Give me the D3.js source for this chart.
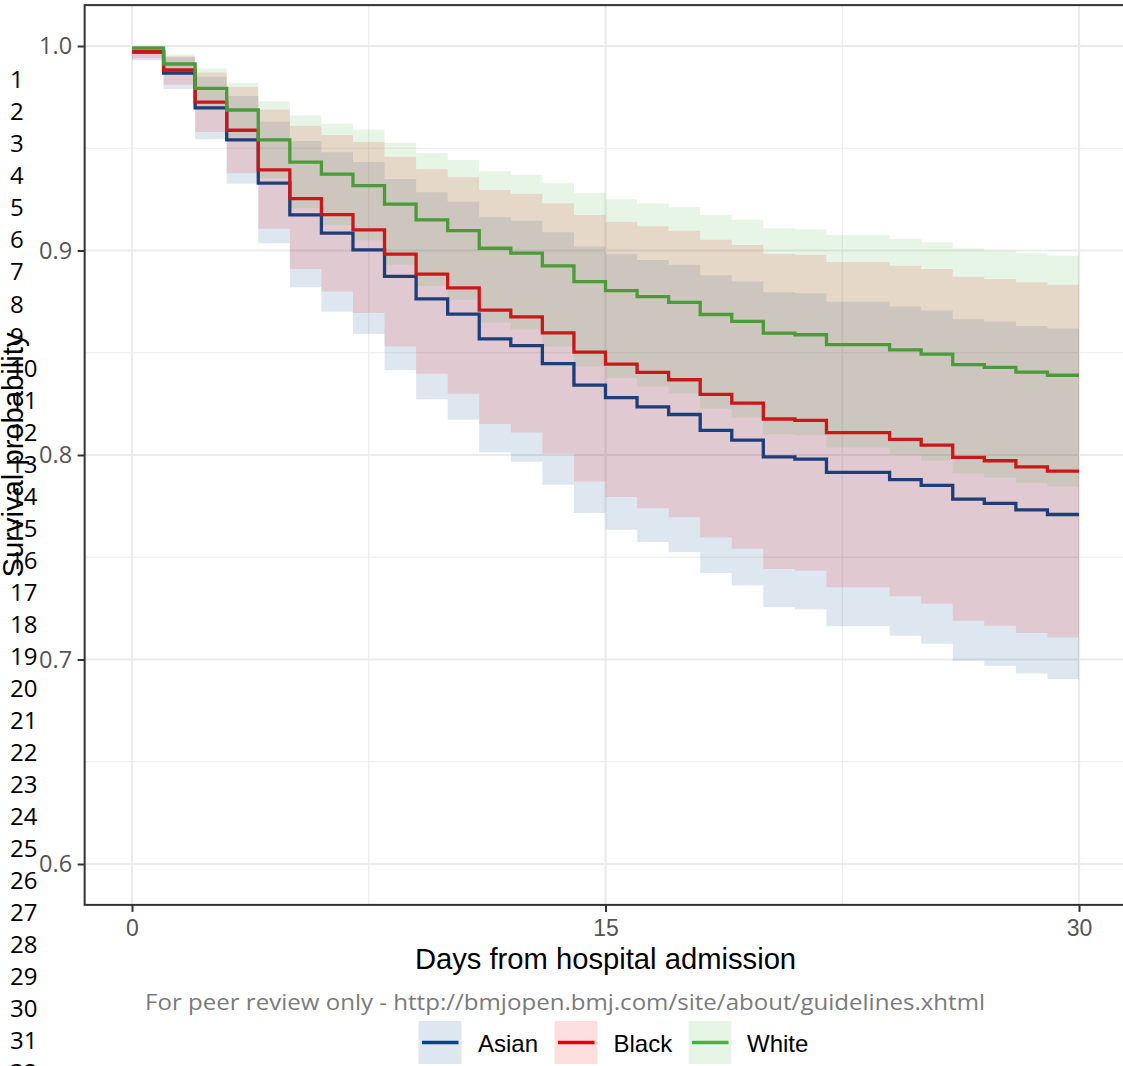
<!DOCTYPE html>
<html><head><meta charset="utf-8">
<script src="https://cdn.jsdelivr.net/npm/d3@7"></script>
<style>body{margin:0;background:#fff}svg{display:block}</style>
</head><body><svg id="c" width="1123" height="1066"></svg>
<script>
// ---------------- data ----------------
const days = [0,1,2,3,4,5,6,7,8,9,10,11,12,13,14,15,16,17,18,19,20,21,22,23,24,25,26,27,28,29,30];
const groups = ["Asian","Black","White"];

const asianSurv  = [0.997,0.9868,0.9697,0.9541,0.9329,0.9174,0.9085,0.9003,0.8873,0.8763,0.8689,0.8568,0.8535,0.8447,0.8342,0.8281,0.8235,0.8198,0.8120,0.8073,0.7991,0.7980,0.7915,0.7915,0.7880,0.7851,0.7784,0.7763,0.7732,0.7709,0.7709];
const asianUpper = [1.0,0.9945,0.985,0.9756,0.963,0.9536,0.948,0.9433,0.935,0.9285,0.9238,0.9163,0.9145,0.9089,0.9019,0.8982,0.8954,0.8930,0.8879,0.8848,0.8796,0.8791,0.8749,0.8749,0.8726,0.8706,0.8664,0.8653,0.8631,0.8618,0.8618];
const asianLower = [0.993,0.979,0.9544,0.9326,0.9036,0.882,0.870,0.8592,0.8416,0.8273,0.8172,0.8014,0.7967,0.7854,0.7716,0.7634,0.7575,0.7525,0.7423,0.7362,0.7257,0.7245,0.7162,0.7162,0.7116,0.7077,0.6994,0.6970,0.6931,0.6905,0.6905];

const blackSurv  = [0.9972,0.9883,0.9726,0.9588,0.9394,0.9254,0.9175,0.9101,0.8982,0.8884,0.8817,0.8708,0.8675,0.8597,0.8503,0.8444,0.8404,0.8368,0.8296,0.8254,0.8176,0.8169,0.8109,0.8109,0.8076,0.8048,0.7988,0.7972,0.7942,0.7921,0.7921];
const blackUpper = [1.0,0.995,0.987,0.980,0.969,0.961,0.9565,0.953,0.9459,0.9397,0.9358,0.9296,0.9277,0.9231,0.9174,0.9141,0.9118,0.9097,0.9052,0.9027,0.8983,0.8978,0.8944,0.8944,0.8925,0.8909,0.8872,0.8861,0.8845,0.8832,0.8832];
const blackLower = [0.994,0.981,0.958,0.9378,0.9106,0.8909,0.880,0.8694,0.853,0.8397,0.8299,0.8152,0.811,0.8006,0.787,0.7795,0.774,0.7695,0.7597,0.7542,0.7443,0.7434,0.7353,0.7353,0.7309,0.7273,0.7190,0.7165,0.7130,0.7108,0.7108];

const whiteSurv  = [0.999,0.9912,0.9793,0.9687,0.9541,0.9432,0.9373,0.9317,0.9227,0.9150,0.9097,0.9011,0.8987,0.8925,0.8848,0.8804,0.8774,0.8746,0.8687,0.8653,0.8596,0.8588,0.8540,0.8540,0.8514,0.8493,0.8442,0.8428,0.8405,0.8390,0.8390];
const whiteUpper = [1.0,0.996,0.989,0.982,0.973,0.966,0.962,0.959,0.9527,0.9476,0.9443,0.9388,0.9371,0.9329,0.9283,0.9251,0.9230,0.9212,0.9174,0.9150,0.9109,0.9104,0.9076,0.9076,0.9057,0.9040,0.9011,0.9000,0.8987,0.8975,0.8975];
const whiteLower = [0.997,0.986,0.969,0.955,0.9353,0.9207,0.9125,0.905,0.893,0.8827,0.8759,0.8648,0.8612,0.8531,0.8433,0.8376,0.8335,0.8302,0.8226,0.8182,0.8102,0.8096,0.8037,0.8037,0.8001,0.7973,0.7910,0.7890,0.7863,0.7846,0.7846];

const xTicks = [0,15,30];
const xMinor = [7.5,22.5];
const yTicks = [0.6,0.7,0.8,0.9,1.0];
const yMinor = [0.65,0.75,0.85,0.95];
const lineNumbers = d3.range(1,33);

const fillColors = {Asian:"#00468B", Black:"#ED0000", White:"#42B540"};
const lineColors = {Asian:"#1E3E7A", Black:"#C81818", White:"#4B9B3A"};
const keyColors  = {Asian:"#00468B", Black:"#ED0000", White:"#42B540"};

const series = [
  {name:"Asian", surv:asianSurv, upper:asianUpper, lower:asianLower},
  {name:"Black", surv:blackSurv, upper:blackUpper, lower:blackLower},
  {name:"White", surv:whiteSurv, upper:whiteUpper, lower:whiteLower}
];

// ---------------- layout ----------------
const svg = d3.select("#c");
const x = d3.scaleLinear().domain([-1.5,31.5]).range([84.65,1126.35]);
const y = d3.scaleLinear().domain([0.58,1.02]).range([904.9,5.1]);
const [px0,px1] = x.range();
const [py1,py0] = y.range();

svg.append("rect").attr("width",1123).attr("height",1066).attr("fill","#fff");

// grid
const grid = svg.append("g");
grid.selectAll(".mx").data(xMinor).join("line")
  .attr("x1",d=>x(d)).attr("x2",d=>x(d)).attr("y1",py0).attr("y2",py1)
  .attr("stroke","#ebebeb").attr("stroke-width",1.1);
grid.selectAll(".my").data(yMinor).join("line")
  .attr("y1",d=>y(d)).attr("y2",d=>y(d)).attr("x1",px0).attr("x2",px1)
  .attr("stroke","#ebebeb").attr("stroke-width",1.1);
grid.selectAll(".Mx").data(xTicks).join("line")
  .attr("x1",d=>x(d)).attr("x2",d=>x(d)).attr("y1",py0).attr("y2",py1)
  .attr("stroke","#ebebeb").attr("stroke-width",2.2);
grid.selectAll(".My").data(yTicks).join("line")
  .attr("y1",d=>y(d)).attr("y2",d=>y(d)).attr("x1",px0).attr("x2",px1)
  .attr("stroke","#ebebeb").attr("stroke-width",2.2);

// bands
const area = d3.area().curve(d3.curveStepAfter)
  .x(d=>x(d.t)).y0(d=>y(d.lo)).y1(d=>y(d.hi));
const plot = svg.append("g");
series.forEach(s=>{
  const pts = days.map((t,i)=>({t, lo:s.lower[i], hi:s.upper[i]}));
  plot.append("path").datum(pts).attr("d",area)
    .attr("fill",fillColors[s.name]).attr("fill-opacity",0.13);
});
// lines
const line = d3.line().curve(d3.curveStepAfter).x(d=>x(d.t)).y(d=>y(d.v));
series.forEach(s=>{
  const pts = days.map((t,i)=>({t, v:s.surv[i]}));
  plot.append("path").datum(pts).attr("d",line)
    .attr("fill","none").attr("stroke",lineColors[s.name]).attr("stroke-width",3.3);
});

// border
svg.append("rect").attr("x",px0).attr("y",py0).attr("width",px1-px0).attr("height",py1-py0)
  .attr("fill","none").attr("stroke","#333").attr("stroke-width",2);

// axes
const yAxis = svg.append("g").attr("transform",`translate(${px0},0)`)
  .call(d3.axisLeft(y).tickValues(yTicks).tickFormat(d3.format(".1f")).tickSize(7).tickPadding(5.5));
yAxis.select(".domain").remove();
yAxis.selectAll("line").attr("stroke","#333").attr("stroke-width",2);
yAxis.selectAll("text").attr("fill","#555").style("font-family","'Open Sans', sans-serif").style("font-size","23.5px");

const xAxis = svg.append("g").attr("transform",`translate(0,${py1})`)
  .call(d3.axisBottom(x).tickValues(xTicks).tickFormat(d3.format("d")).tickSize(7).tickPadding(8));
xAxis.select(".domain").remove();
xAxis.selectAll("line").attr("stroke","#333").attr("stroke-width",2);
xAxis.selectAll("text").attr("fill","#555").style("font-family","'Liberation Sans Narrow','Liberation Sans', Arial, sans-serif").style("font-size","23px");

// axis titles
svg.append("text").attr("x",(px0+px1)/2).attr("y",968.5).attr("text-anchor","middle")
  .style("font-family","'Liberation Sans', Arial, sans-serif").style("font-size","29.2px").attr("fill","#000")
  .text("Days from hospital admission");
svg.append("text").attr("transform",`translate(23,${(py0+py1)/2}) rotate(-90)`).attr("text-anchor","middle")
  .style("font-family","'Liberation Sans', Arial, sans-serif").style("font-size","29.2px").attr("fill","#000")
  .text("Survival probability");

// footer
svg.append("text").attr("x",145).attr("y",1010)
  .attr("textLength",840).attr("lengthAdjust","spacingAndGlyphs")
  .style("font-family","'Open Sans', sans-serif").style("font-size","22px").attr("fill","#7a7a7a")
  .text("For peer review only - http://bmjopen.bmj.com/site/about/guidelines.xhtml");

// legend
const keyX = {Asian:418.5, Black:554.5, White:688.5};
const labX = {Asian:478, Black:613.5, White:747};
const leg = svg.append("g");
groups.forEach(g=>{
  leg.append("rect").attr("x",keyX[g]).attr("y",1021).attr("width",43).attr("height",43)
    .attr("fill",fillColors[g]).attr("fill-opacity",0.13);
  leg.append("line").attr("x1",keyX[g]+3.5).attr("x2",keyX[g]+40).attr("y1",1042.5).attr("y2",1042.5)
    .attr("stroke",keyColors[g]).attr("stroke-width",3.5);
  leg.append("text").attr("x",labX[g]).attr("y",1051.5)
    .style("font-family","'Liberation Sans', Arial, sans-serif").style("font-size","24px").attr("fill","#000")
    .text(g);
});

// manuscript line numbers
svg.append("g").selectAll("text").data(lineNumbers).join("text")
  .attr("x",10).attr("y",(d,i)=>88.3+i*32.03)
  .style("font-family","'Open Sans', sans-serif").style("font-size","24px").attr("fill","#000")
  .text(d=>d);
</script></body></html>
